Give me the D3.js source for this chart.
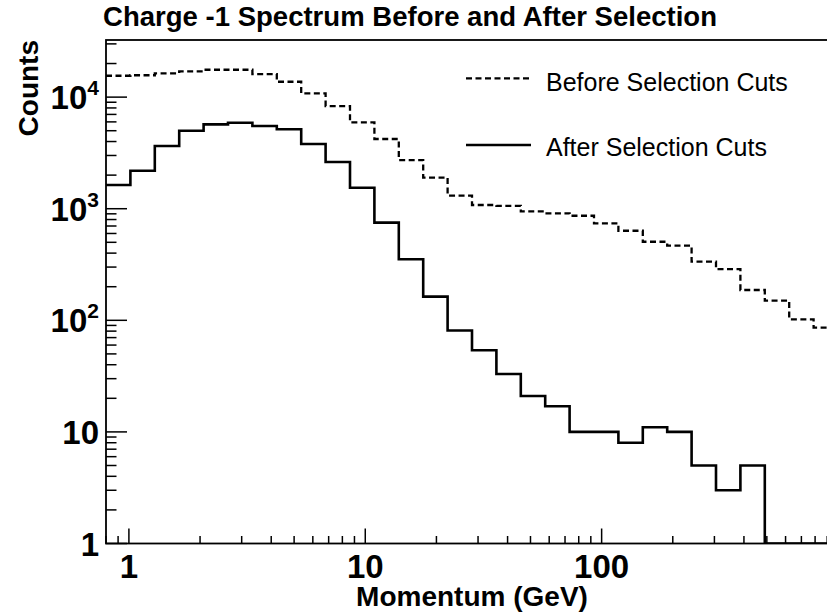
<!DOCTYPE html>
<html><head><meta charset="utf-8">
<script src="https://cdn.jsdelivr.net/npm/d3@7"></script>
<style>body{margin:0;background:#fff} svg{display:block}</style>
</head><body>
<svg id="c" width="827" height="613"></svg>
<script>
// ---- data ----
const titleText = "Charge -1 Spectrum Before and After Selection";
const xTitle = "Momentum (GeV)";
const yTitle = "Counts";
const seriesNames = ["Before Selection Cuts", "After Selection Cuts"];
const xRange = [0.8, 1000];      // momentum axis range (GeV), log binned
const nBins = 30;                 // equal-width bins in log(momentum)
const yRange = [1, 32500];
const beforeCounts = [15550, 15700, 16350, 17000, 17600, 17600, 16100, 13740, 10800, 8320,
                      5940, 4215, 2730, 1897, 1309, 1080, 1060, 945, 910, 865,
                      740, 635, 506, 466, 335, 287, 187, 150, 102, 86];
const afterCounts  = [1630, 2190, 3650, 5000, 5700, 5900, 5510, 5150, 3800, 2620,
                      1540, 750, 352, 163, 81, 54, 33, 21, 17, 10,
                      10, 8, 11, 10, 5, 3, 5, 0, 0, 0];
const xTickLabels = [{v: 1, t: "1"}, {v: 10, t: "10"}, {v: 100, t: "100"}];
const yTickLabels = [{v: 1, b: "1", e: ""}, {v: 10, b: "10", e: ""}, {v: 100, b: "10", e: "2"},
                     {v: 1000, b: "10", e: "3"}, {v: 10000, b: "10", e: "4"}];

// ---- layout ----
const L = 106, R = 838, T = 40, B = 543.5;
const FONT = "'Liberation Sans', Arial, Helvetica, sans-serif";
const svg = d3.select("#c");

const x = d3.scaleLog().domain(xRange).range([L, R]);
const y = d3.scaleLog().domain(yRange).range([B, T]);

// bin edges (equal in log space across the axis range)
const lx0 = Math.log10(xRange[0]), lx1 = Math.log10(xRange[1]);
const edges = d3.range(nBins + 1).map(k => Math.pow(10, lx0 + k * (lx1 - lx0) / nBins));

svg.append("defs").append("clipPath").attr("id", "plotclip")
  .append("rect").attr("x", L).attr("y", T).attr("width", R - L).attr("height", B - T);

function histPoints(counts) {
  const pts = counts.map((c, i) => ({e: edges[i], c}));
  pts.push({e: edges[nBins], c: counts[nBins - 1]});
  return pts;
}
const line = d3.line()
  .x(d => x(d.e))
  .y(d => y(Math.max(d.c, yRange[0])))
  .curve(d3.curveStepAfter);

const g = svg.append("g").attr("clip-path", "url(#plotclip)");
g.append("path").datum(histPoints(beforeCounts))
  .attr("d", line).attr("fill", "none").attr("stroke", "#000")
  .attr("stroke-width", 2.3).attr("stroke-dasharray", "6,3.5");
g.append("path").datum(histPoints(afterCounts))
  .attr("d", line).attr("fill", "none").attr("stroke", "#000")
  .attr("stroke-width", 2.6).attr("stroke-linejoin", "miter");

// ---- frame ----
svg.append("rect").attr("x", L).attr("y", T).attr("width", R - L).attr("height", B - T)
  .attr("fill", "none").attr("stroke", "#000").attr("stroke-width", 1.8);

// ---- y ticks (inward) ----
const isMajor = d => Math.abs(Math.log10(d) - Math.round(Math.log10(d))) < 1e-9;
const yTicks = y.ticks();
svg.append("g").selectAll("line").data(yTicks).join("line")
  .attr("x1", L).attr("x2", d => L + (isMajor(d) ? 21 : 10.5))
  .attr("y1", d => y(d)).attr("y2", d => y(d))
  .attr("stroke", "#000").attr("stroke-width", 1.5);

// ---- x ticks (inward) ----
const xTicks = x.ticks().filter(d => d >= xRange[0] && d <= xRange[1]);
svg.append("g").selectAll("line").data(xTicks).join("line")
  .attr("y1", B).attr("y2", d => B - (isMajor(d) ? 15 : 7.5))
  .attr("x1", d => x(d)).attr("x2", d => x(d))
  .attr("stroke", "#000").attr("stroke-width", 1.5);

// ---- tick labels ----
svg.append("g").selectAll("text").data(xTickLabels).join("text")
  .attr("x", d => x(d.v)).attr("y", 578).attr("text-anchor", "middle")
  .attr("font-family", FONT).attr("font-weight", "bold").attr("font-size", 33)
  .text(d => d.t);

const yl = svg.append("g").selectAll("text").data(yTickLabels).join("text")
  .attr("x", 99).attr("y", d => y(d.v) + 12).attr("text-anchor", "end")
  .attr("font-family", FONT).attr("font-weight", "bold").attr("font-size", 33);
yl.append("tspan").text(d => d.b);
yl.filter(d => d.e).append("tspan").attr("dy", -14).attr("font-size", 21).text(d => d.e);

// ---- titles ----
svg.append("text").attr("x", 103).attr("y", 26)
  .attr("font-family", FONT).attr("font-weight", "bold").attr("font-size", 27)
  .attr("textLength", 614).attr("lengthAdjust", "spacingAndGlyphs")
  .text(titleText);
svg.append("text").attr("x", (L + R) / 2).attr("y", 606).attr("text-anchor", "middle")
  .attr("font-family", FONT).attr("font-weight", "bold").attr("font-size", 28)
  .text(xTitle);
svg.append("text").attr("transform", "translate(38," + T + ") rotate(-90)")
  .attr("text-anchor", "end")
  .attr("font-family", FONT).attr("font-weight", "bold").attr("font-size", 28)
  .text(yTitle);

// ---- legend ----
const legend = [
  {name: seriesNames[0], dash: "6,3.5", w: 2.3, ly: 78.3, ty: 90.5},
  {name: seriesNames[1], dash: null, w: 2.6, ly: 145, ty: 156}
];
const lg = svg.append("g");
legend.forEach(d => {
  lg.append("line").attr("x1", 466).attr("x2", 531).attr("y1", d.ly).attr("y2", d.ly)
    .attr("stroke", "#000").attr("stroke-width", d.w).attr("stroke-dasharray", d.dash);
  lg.append("text").attr("x", 546).attr("y", d.ty)
    .attr("font-family", FONT).attr("font-size", 25).text(d.name);
});
</script>
</body></html>
